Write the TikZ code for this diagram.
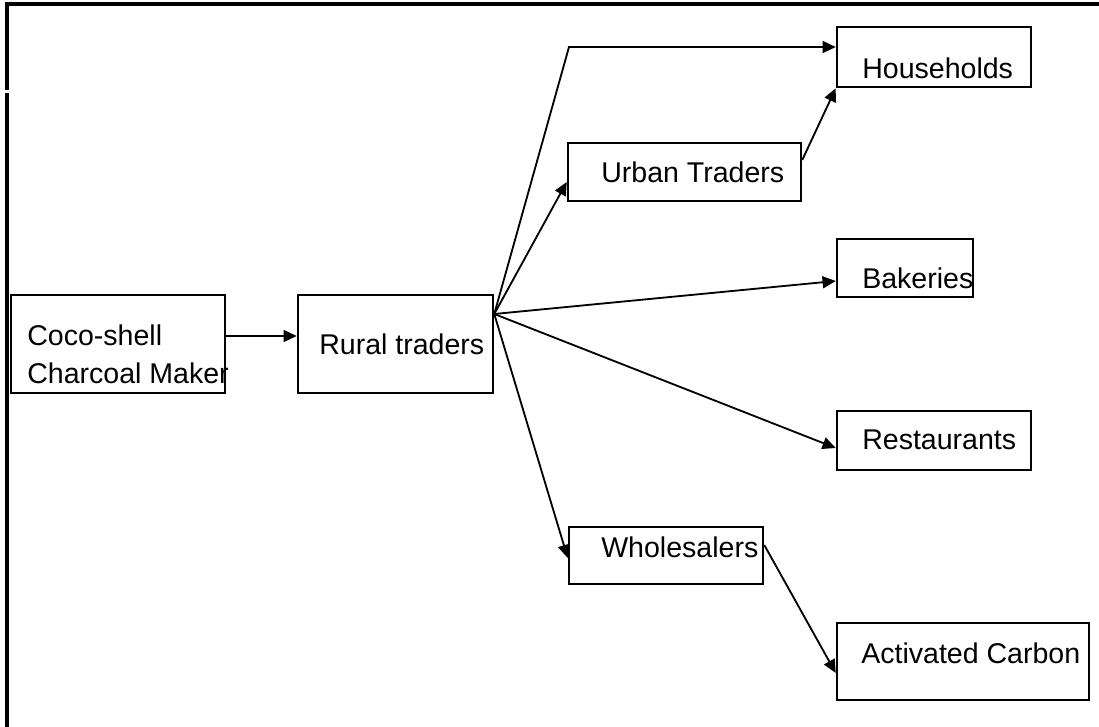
\documentclass[tikz,border=0pt]{standalone}
\usepackage{fontspec}
\setmainfont{Liberation Sans}
\usetikzlibrary{arrows.meta,fit}

\begin{document}
\begin{tikzpicture}[x=0.025cm, y=-0.025cm,
    caixa/.style={draw, line width=1.8pt, inner sep=0pt},
    rotulo/.style={anchor=base west, inner sep=0pt, font=\fontsize{20.3}{27.6}\selectfont},
    seta/.style={line width=1.3pt, -{Triangle[length=3.3mm, width=3mm]}}]
    \useasboundingbox (0,0) rectangle (1099,727);

    % Moldura
    \draw[line width=2.3pt] (7,90) -- (7,4) -- (1099,4);
    \draw[line width=2.3pt] (7,93) -- (7,727);

    % Caixas
    \node[caixa, fit={(11,295) (225,393)}] (coco) {};
    \node[caixa, fit={(298,295) (493,393)}] (rural) {};
    \node[caixa, fit={(568,143) (801,201)}] (urban) {};
    \node[caixa, fit={(837,27) (1031,87)}] (house) {};
    \node[caixa, fit={(837,239) (973,297)}] (bake) {};
    \node[caixa, fit={(837,411) (1031,470)}] (rest) {};
    \node[caixa, fit={(569,527) (763,584)}] (whole) {};
    \node[caixa, fit={(837,623) (1089,700)}] (carbon) {};

    % Textos
    \node[rotulo, align=left] (cocotxt) at (27,384) {Coco-shell\\Charcoal Maker};
    \node[rotulo] (ruraltxt) at (319,355) {Rural traders};
    \node[rotulo] (urbantxt) at (601,183) {Urban Traders};
    \node[rotulo] (housetxt) at (862,79) {Households};
    \node[rotulo] (baketxt) at (862,289) {Bakeries};
    \node[rotulo] (resttxt) at (862,450) {Restaurants};
    \node[rotulo] (wholetxt) at (601,557) {Wholesalers};
    \node[rotulo] (carbontxt) at (861,663) {Activated Carbon};

    % Setas
    \coordinate (fan) at (rural.east |- 0,314);
    \draw[seta] (coco.east |- 0,336) -- (rural.west |- 0,336);
    \draw[seta] (fan) -- (569,47) -- (house.west |- 0,47);
    \draw[seta] (fan) -- (urban.west |- 0,182);
    \draw[seta] (urban.east |- 0,160) -- (house.south west);
    \draw[seta] (fan) -- (bake.west |- 0,281);
    \draw[seta] (fan) -- (rest.west |- 0,448);
    \draw[seta] (fan) -- (whole.west |- 0,558);
    \draw[seta] (whole.east |- 0,545) -- (carbon.west |- 0,673);
\end{tikzpicture}
\end{document}
